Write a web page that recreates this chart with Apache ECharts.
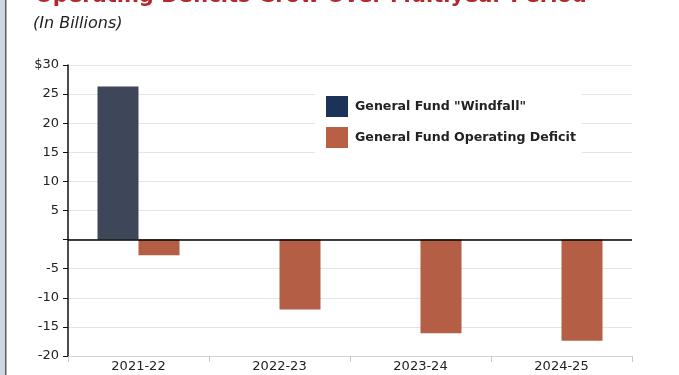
<!DOCTYPE html>
<html>
<head>
<meta charset="utf-8">
<script src="https://cdn.jsdelivr.net/npm/echarts@6/dist/echarts.min.js"></script>
<style>
html,body{margin:0;padding:0;background:#fff;}
#chart{width:679px;height:375px;}
</style>
</head>
<body>
<div id="chart"></div>
<script>
// 数据
var years = ['2021-22', '2022-23', '2023-24', '2024-25'];
var windfall = [26.3, null, null, null];
var deficit = [-2.7, -12.0, -16.1, -17.4];
var seriesNames = ['General Fund "Windfall"', 'General Fund Operating Deficit'];

var FONT = 'DejaVu Sans';

var chart = echarts.init(document.getElementById('chart'));

var option = {
    backgroundColor: '#fff',
    animation: false,
    title: [
        {
            text: 'Operating Deficits Grow Over Multiyear Period',
            left: 30,
            top: -19,
            textStyle: {color: '#b3282d', fontFamily: FONT, fontSize: 21, fontWeight: 'bold'}
        },
        {
            text: '(In Billions)',
            left: 28,
            top: 11,
            textStyle: {color: '#222', fontFamily: FONT, fontSize: 16, fontStyle: 'italic', fontWeight: 'normal'}
        }
    ],
    graphic: [
        {type: 'rect', left: 0, top: 0, shape: {width: 5, height: 375}, style: {fill: '#cdd7e2'}},
        {type: 'rect', left: 5, top: 0, shape: {width: 1.5, height: 375}, style: {fill: '#5a5f66'}}
    ],
    legend: {
        orient: 'vertical',
        left: 315,
        top: 88,
        padding: [8, 6, 8, 11],
        icon: 'rect',
        itemWidth: 22,
        itemHeight: 21,
        itemGap: 10,
        backgroundColor: '#fff',
        textStyle: {color: '#222', fontFamily: FONT, fontSize: 12.6, fontWeight: 'bold', padding: [0, 0, 0, 2]},
        data: [
            {name: seriesNames[0], itemStyle: {color: '#1b3358'}},
            {name: seriesNames[1], itemStyle: {color: '#b95f45'}}
        ]
    },
    grid: {left: 68, right: 47, top: 65, bottom: 19, containLabel: false},
    xAxis: {
        type: 'category',
        data: years,
        axisLine: {onZero: false, lineStyle: {color: '#d4d4d4'}},
        axisTick: {show: true, length: 6, lineStyle: {color: '#c8c8c8'}},
        axisLabel: {color: '#222', fontFamily: FONT, fontSize: 13, margin: 4}
    },
    yAxis: {
        type: 'value',
        min: -20,
        max: 30,
        interval: 5,
        axisLine: {show: true, lineStyle: {color: '#111', width: 1.5}},
        axisTick: {show: true, length: 5, lineStyle: {color: '#111'}},
        splitLine: {lineStyle: {color: '#e4e4e4'}},
        axisLabel: {
            color: '#222', fontFamily: FONT, fontSize: 13, margin: 9,
            formatter: function (v) {
                if (v === 0) return '';
                if (v === 30) return '$30';
                return v;
            }
        }
    },
    series: [
        {
            name: seriesNames[0],
            type: 'bar',
            data: windfall,
            barWidth: 41,
            barGap: 0,
            itemStyle: {color: '#3e4659'},
            markLine: {
                silent: true,
                symbol: 'none',
                label: {show: false},
                lineStyle: {color: '#000', width: 1.5, type: 'solid'},
                data: [{yAxis: 0}]
            }
        },
        {
            name: seriesNames[1],
            type: 'bar',
            data: deficit,
            barWidth: 41,
            barGap: 0,
            itemStyle: {color: '#b45e45'}
        }
    ]
};

chart.setOption(option);
</script>
</body>
</html>
